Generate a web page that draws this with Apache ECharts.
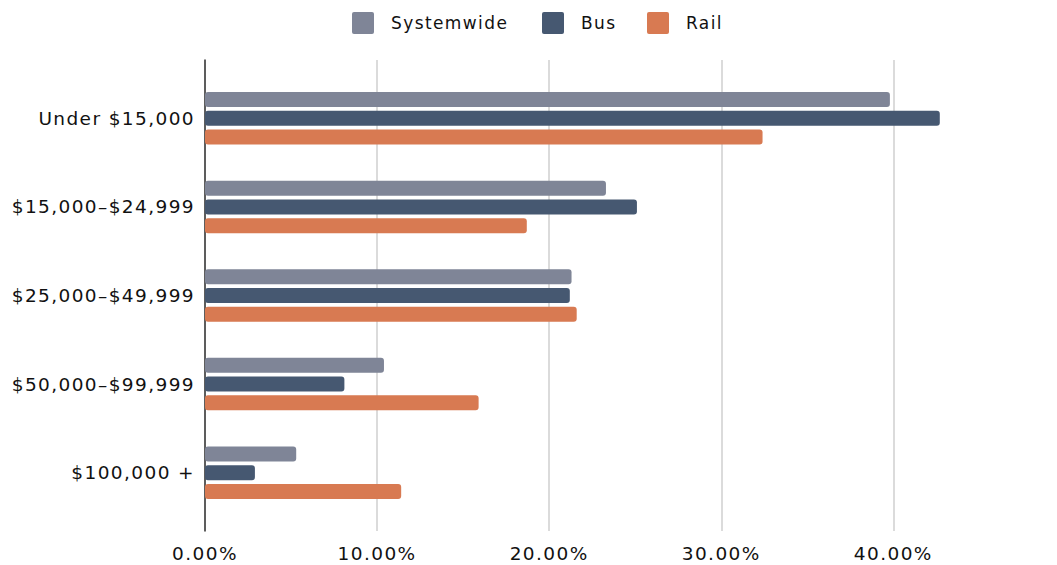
<!DOCTYPE html>
<html>
<head>
<meta charset="utf-8">
<title>Household income of riders</title>
<script src="https://cdn.jsdelivr.net/npm/echarts@6/dist/echarts.min.js"></script>
<style>
  html, body { margin: 0; padding: 0; background: #ffffff; }
  #chart { width: 1057px; height: 565px; }
  /* spaced-out lettering for every label */
  #chart svg text { letter-spacing: 1.4px; }
</style>
</head>
<body>
<div id="chart"></div>
<script>
// Income brackets, top to bottom
const categories = ['Under $15,000', '$15,000\u2013$24,999', '$25,000\u2013$49,999', '$50,000\u2013$99,999', '$100,000 +'];
// Share of riders in each bracket (percent)
const systemwide = [39.8, 23.3, 21.3, 10.4, 5.3];
const bus = [42.7, 25.1, 21.2, 8.1, 2.9];
const rail = [32.4, 18.7, 21.6, 15.9, 11.4];
// Value axis range and step (percent)
const axisMin = 0;
const axisMax = 48;
const axisStep = 10;

const seriesNames = ['Systemwide', 'Bus', 'Rail'];
const seriesData = [systemwide, bus, rail];
const colors = ['#7f8597', '#465871', '#d87a52'];

const font = 'DejaVu Sans, Verdana, sans-serif';
const chart = echarts.init(document.getElementById('chart'), null, { renderer: 'svg' });

// square swatch with slightly rounded corners
const swatch = 'path://M2,0H20A2,2 0 0 1 22,2V20A2,2 0 0 1 20,22H2A2,2 0 0 1 0,20V2A2,2 0 0 1 2,0Z';
const legendLefts = [347, 537, 642];

const option = {
  animation: false,
  color: colors,
  legend: seriesNames.map((name, i) => ({
    data: [name],
    left: legendLefts[i],
    top: 7,
    itemWidth: 22,
    itemHeight: 22,
    icon: swatch,
    textStyle: { fontFamily: font, fontSize: 17, color: '#111', padding: [0, 0, 0, 12] }
  })),
  grid: [
    // frame: vertical axis line and gridlines
    { left: 205, right: 26, top: 60, bottom: 34 },
    // bars and category labels
    { left: 205, right: 26, top: 74, bottom: 48 }
  ],
  xAxis: [
    {
      gridIndex: 0,
      type: 'value',
      min: axisMin,
      max: axisMax,
      interval: axisStep,
      axisLine: { show: false },
      axisTick: { show: false },
      splitLine: { show: true, showMaxLine: false, lineStyle: { color: '#cfcfcf', width: 1.5 } },
      axisLabel: {
        margin: 13,
        showMaxLabel: false,
        fontFamily: font,
        fontSize: 18.5,
        color: '#111',
        formatter: v => v.toFixed(2) + '%'
      }
    },
    {
      gridIndex: 1,
      type: 'value',
      min: axisMin,
      max: axisMax,
      interval: axisStep,
      show: false
    }
  ],
  yAxis: [
    {
      gridIndex: 0,
      type: 'value',
      min: 0,
      max: 1,
      axisLine: { show: true, lineStyle: { color: '#333', width: 1.5 } },
      axisTick: { show: false },
      axisLabel: { show: false },
      splitLine: { show: false }
    },
    {
      gridIndex: 1,
      type: 'category',
      data: categories,
      inverse: true,
      axisLine: { show: false },
      axisTick: { show: false },
      axisLabel: { margin: 10, fontFamily: font, fontSize: 18.5, color: '#111' }
    }
  ],
  series: seriesNames.map((name, i) => ({
    name: name,
    type: 'bar',
    xAxisIndex: 1,
    yAxisIndex: 1,
    data: seriesData[i],
    barWidth: 15,
    barGap: '25%',
    itemStyle: {
      color: colors[i],
      borderRadius: 3
    }
  }))
};

chart.setOption(option);
</script>
</body>
</html>
